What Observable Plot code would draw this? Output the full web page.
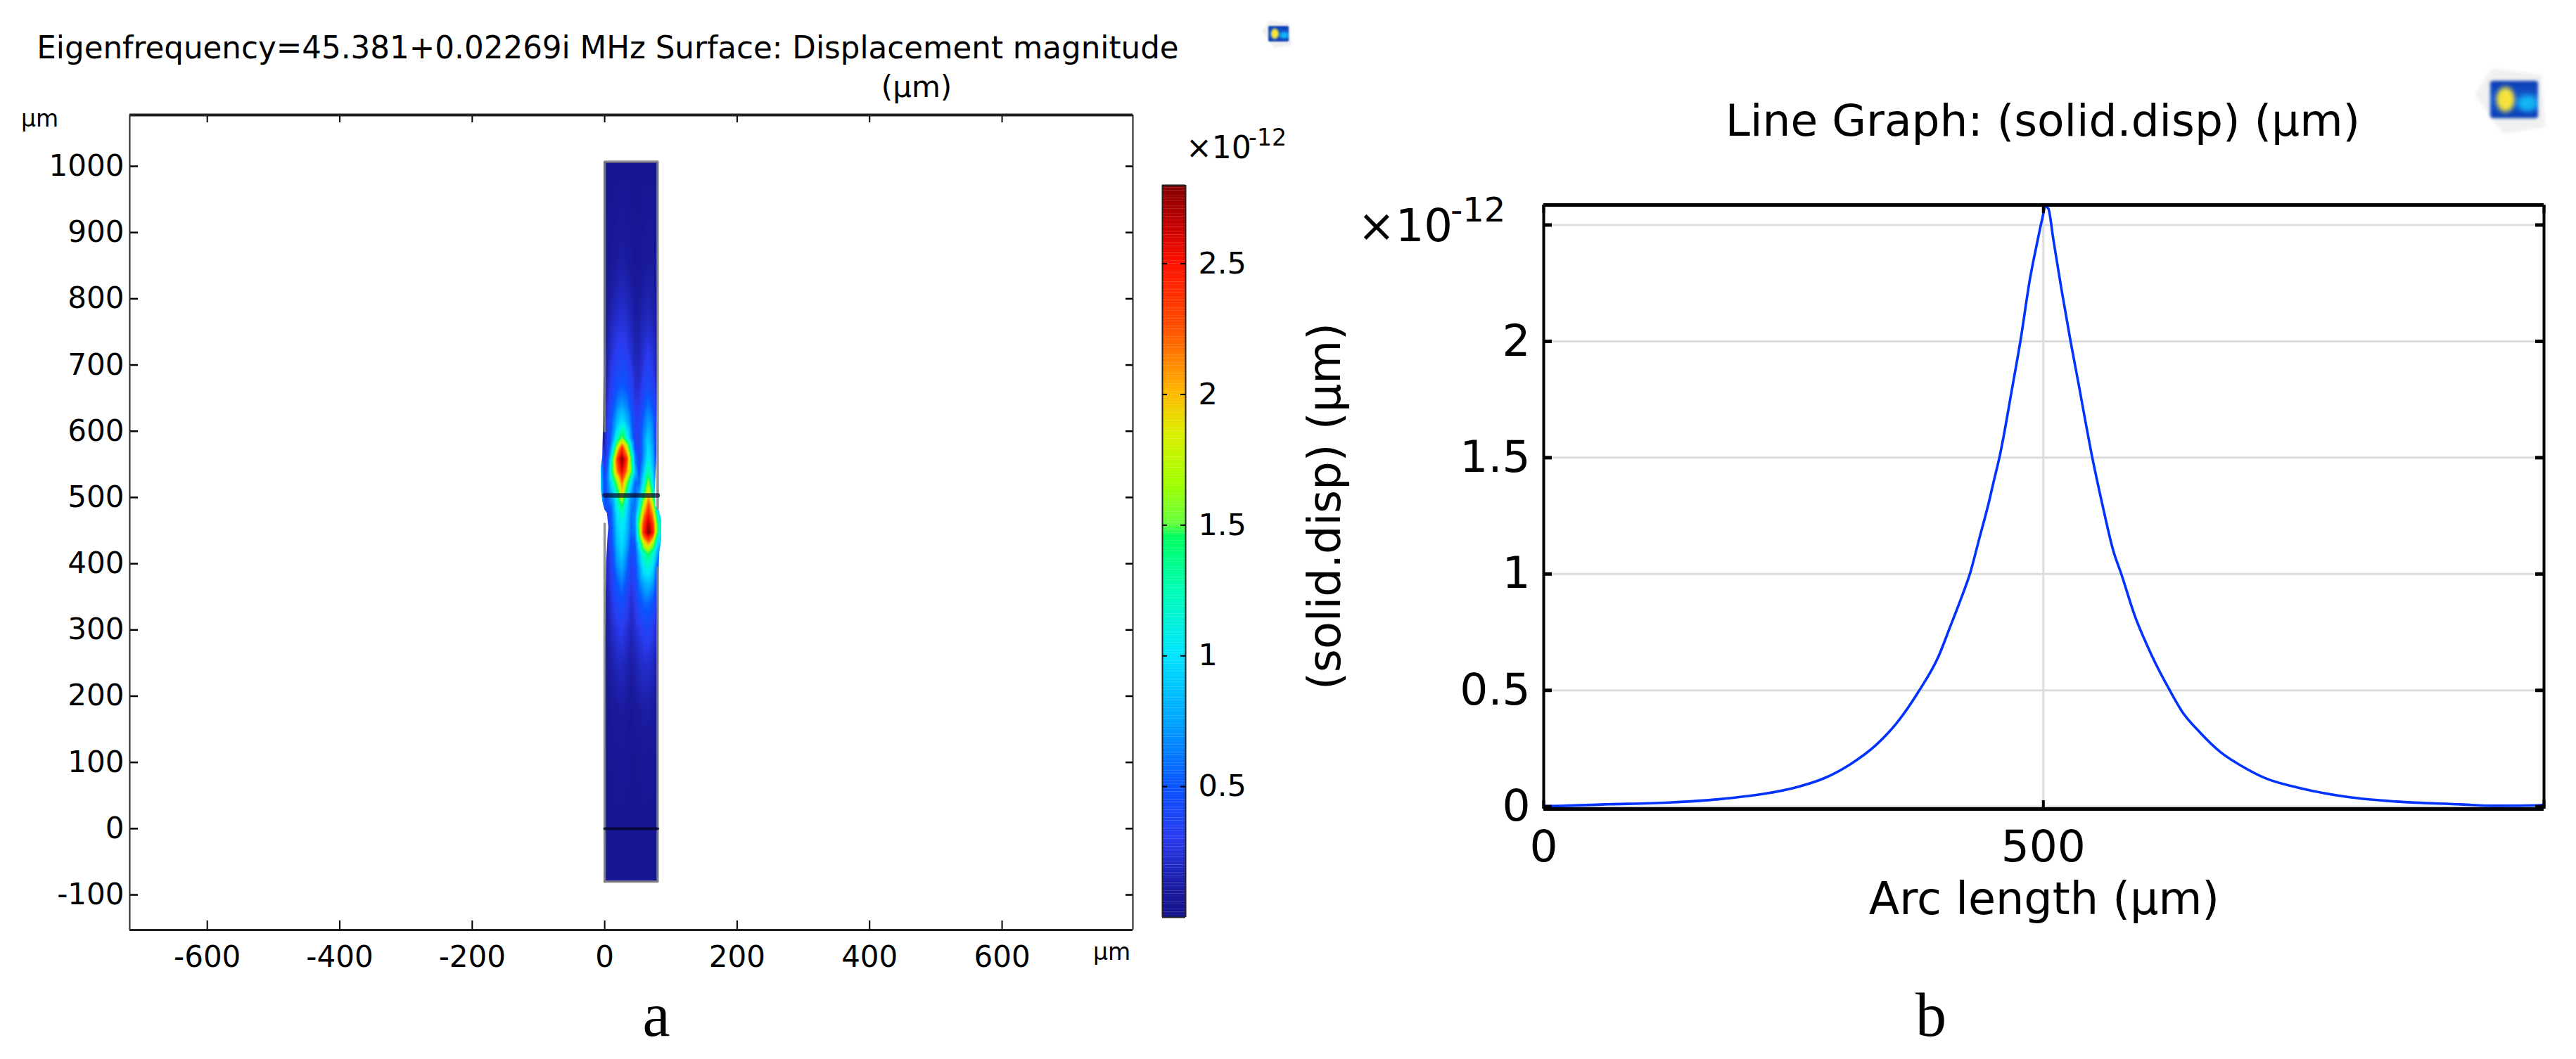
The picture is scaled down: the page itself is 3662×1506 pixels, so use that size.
<!DOCTYPE html>
<html>
<head>
<meta charset="utf-8">
<script src="https://cdn.jsdelivr.net/npm/d3@7"></script>
<script src="https://cdn.jsdelivr.net/npm/@observablehq/plot@0.6"></script>
<style>
html,body{margin:0;padding:0;background:#fff;width:3662px;height:1506px;overflow:hidden}
#page{position:relative;width:3662px;height:1506px}
#page>div,#page>svg,#page>figure{position:absolute;margin:0}
#page svg{overflow:visible}
</style>
</head>
<body>
<div id="page"></div>
<script>
// ---- Panel a: displacement field (x and y in µm, values ×10^-12)
const xCols = [-6,0,6,12,19,26,33,40,46,52,59,66,73,80,86];
const yRows = [1007,850,780,720,670,640,614,590,575,558,540,522,505,490,475,460,447,430,415,395,370,340,300,250,180,100,0,-80];
const fieldRows = [
 [.03,.03,.03,.04,.04,.04,.04,.03,.03,.03,.04,.04,.04,.03,.03],
 [.03,.04,.07,.09,.11,.13,.11,.09,.07,.07,.09,.11,.10,.05,.03],
 [.04,.06,.12,.16,.20,.22,.20,.15,.11,.11,.15,.17,.15,.07,.04],
 [.05,.08,.17,.25,.31,.33,.31,.23,.16,.16,.24,.29,.24,.09,.05],
 [.06,.10,.24,.35,.46,.50,.46,.35,.22,.22,.35,.41,.34,.12,.06],
 [.08,.12,.30,.46,.64,.72,.64,.46,.28,.28,.46,.58,.46,.13,.08],
 [.10,.14,.36,.58,.85,1.0,.85,.58,.34,.34,.58,.75,.60,.16,.10],
 [.15,.16,.38,.70,1.2,1.55,1.15,.70,.34,.34,.68,.90,.66,.16,.10],
 [.30,.18,.45,.95,1.8,2.4,1.85,1.05,.44,.34,.68,1.0,.72,.22,.10],
 [.70,.22,.62,1.45,2.35,2.8,2.4,1.45,.65,.34,.72,1.1,.78,.24,.10],
 [.90,.30,.75,1.5,2.15,2.6,2.15,1.55,.85,.44,.88,1.3,.88,.26,.10],
 [.95,.40,.72,1.1,1.6,2.15,1.6,1.0,.55,.55,1.1,1.65,1.0,.36,.10],
 [.95,.40,.62,.85,1.25,1.9,1.25,.75,.52,.75,1.35,2.0,1.3,.46,.20],
 [.70,.50,.52,.68,1.15,1.5,1.05,.65,.58,1.0,1.75,2.25,1.75,.70,.40],
 [.30,.40,.34,.62,1.0,1.2,.95,.60,.66,1.3,2.05,2.5,2.05,1.1,.85],
 [.10,.30,.34,.58,.95,1.08,.90,.56,.68,1.55,2.35,2.7,2.35,1.4,1.0],
 [.10,.20,.30,.56,.90,1.02,.86,.55,.62,1.5,2.45,2.8,2.45,1.4,1.0],
 [.10,.18,.28,.52,.86,.98,.78,.46,.52,1.05,1.75,2.05,1.65,.95,.85],
 [.10,.15,.24,.46,.78,.92,.68,.40,.46,.85,1.25,1.45,1.2,.72,.65],
 [.10,.12,.24,.40,.68,.78,.58,.34,.42,.72,1.05,1.15,.95,.50,.34],
 [.08,.10,.22,.34,.52,.62,.46,.28,.36,.60,.78,.84,.72,.36,.16],
 [.07,.08,.18,.28,.40,.44,.34,.22,.30,.44,.55,.56,.48,.24,.08],
 [.06,.07,.14,.21,.27,.30,.24,.17,.22,.28,.35,.36,.30,.14,.06],
 [.05,.06,.11,.14,.18,.19,.16,.12,.14,.19,.22,.22,.19,.09,.05],
 [.04,.05,.07,.09,.10,.11,.09,.07,.09,.10,.12,.12,.10,.05,.04],
 [.03,.03,.05,.06,.07,.07,.06,.05,.05,.06,.07,.07,.06,.04,.03],
 [.03,.03,.04,.04,.05,.05,.05,.04,.04,.04,.05,.05,.04,.03,.03],
 [.02,.02,.03,.03,.03,.03,.03,.03,.03,.03,.03,.03,.03,.02,.02]
];
// deformed outline of the bar
const leftEdgeY  = [1010,700,614,561,543,515,494,481,476,455,437,402,295,-85];
const leftEdgeX  = [-.5,-1,-1.8,-3.2,-5.6,-5.6,-3.2,.3,3.9,6,4.6,2.8,1,.3];
const rightEdgeY = [1010,700,560,508,487,480,466,437,416,384,295,-85];
const rightEdgeX = [80.5,80,78.5,76,77,82.4,86,86,83,81.7,80.7,80.5];
const barOutline = [
  [[0,-80],[0,460]],
  [[0,600],[0,1007],[80,1007],[80,483]],
  [[80,394],[80,-80],[0,-80]]
];
const interfaceLines = [{y:503,w:6.5,o:.72},{y:0,w:4,o:.8}];
const aXDomain = [-717,797.5];
const aYDomain = [-153,1077.5];
const aXTicks = [-600,-400,-200,0,200,400,600];
const aYTicks = [-100,0,100,200,300,400,500,600,700,800,900,1000];

// ---- Colour bar
const colorDomain = [0,.1,.3,.5,.75,1,1.25,1.45,1.5,1.65,1.85,2,2.25,2.5,2.65,2.8];
const colorRange = ["#14148c","#1a1a9c","#2a3cf0","#0a55ff","#00a5ff","#00e5ff","#00ffb4","#00ff60","#66ff40","#a0ff00","#ddee00","#ffb800","#ff5000","#ff1000","#c00000","#800000"];
const colorTicks = [.5,1,1.5,2,2.5];
const colorSteps = d3.range(0,2.8,.01);

// ---- Panel b: line graph
const arcLength = [0,6.5,61,126,175,223,255,281,307,333,352,375,395,407,417,427,436,445,451,456,469,477,487,493.5,499,502,505,510,518,527,535,549,559,570,578,591,609,626.5,639,657,678,698,723,756,804,853,918,950,995,1001];
const solidDisp = [.003,.003,.01,.018,.032,.057,.086,.123,.183,.267,.353,.494,.645,.776,.887,1.008,1.154,1.30,1.41,1.5,1.804,2.0,2.278,2.418,2.529,2.58,2.57,2.438,2.227,2.006,1.823,1.5,1.30,1.10,1.0,.827,.645,.50,.408,.318,.232,.176,.121,.081,.042,.022,.01,.004,.006,.008];
const bXDomain = [0,1001];
const bYDomain = [-.01,2.586];
const bXTicks = [0,500];
const bYTicks = [0,.5,1,1.5,2];
const bYGrid = [0,.5,1,1.5,2,2.5];

const colorScale = {type:"linear",domain:colorDomain,range:colorRange,interpolate:"rgb",clamp:true};
const FONT = "'DejaVu Sans'";
const page = document.getElementById("page");
function put(node,left,top){ node.style.left=left+"px"; node.style.top=top+"px"; page.appendChild(node); }

// field samples
const samples = fieldRows.flatMap((row,j)=>row.map((v,i)=>({x:xCols[i],y:yRows[j],v})));
const leftEdge = leftEdgeY.map((y,i)=>({y,x:leftEdgeX[i]}));
const rightEdge = rightEdgeY.map((y,i)=>({y,x:rightEdgeX[i]}));
const outline = barOutline.flatMap((seg,k)=>seg.map(p=>({x:p[0],y:p[1],k})));

const aW = 1640, aH = 1506, aL = 184, aR = 30, aT = 163, aB = 184;
const plotA = Plot.plot({
  width:aW,height:aH,marginLeft:aL,marginRight:aR,marginTop:aT,marginBottom:aB,
  style:{fontFamily:FONT,fontSize:"42px",background:"transparent",color:"#000"},
  x:{domain:aXDomain,axis:null},
  y:{domain:aYDomain,axis:null},
  color:colorScale,
  marks:[
    Plot.raster(samples,{x:"x",y:"y",fill:"v",interpolate:"barycentric",pixelSize:1,x1:-6,x2:86,y1:-80,y2:1007}),
    Plot.areaX(leftEdge,{x1:()=>-40,x2:"x",y:"y",fill:"#fff"}),
    Plot.areaX(rightEdge,{x1:"x",x2:()=>125,y:"y",fill:"#fff"}),
    Plot.line(outline,{x:"x",y:"y",z:"k",stroke:"#808080",strokeWidth:3.5,strokeOpacity:.85}),
    ...interfaceLines.map(l=>Plot.line([{x:0,y:l.y},{x:80,y:l.y}],{x:"x",y:"y",stroke:"#05052a",strokeWidth:l.w,strokeOpacity:l.o})),
    Plot.ruleX(aXTicks,{insetBottom:aH-aT-aB-11,stroke:"#000",strokeWidth:2}),
    Plot.ruleX(aXTicks,{insetTop:aH-aT-aB-13,stroke:"#000",strokeWidth:2}),
    Plot.ruleY(aYTicks,{insetRight:aW-aL-aR-12,stroke:"#000",strokeWidth:2.5}),
    Plot.ruleY(aYTicks,{insetLeft:aW-aL-aR-10,stroke:"#000",strokeWidth:2.5}),
    Plot.ruleX([aXDomain[0],aXDomain[1]],{stroke:"#222",strokeWidth:2}),
    Plot.ruleY([aYDomain[1]],{stroke:"#222",strokeWidth:4}),
    Plot.ruleY([aYDomain[0]],{stroke:"#222",strokeWidth:3}),
    Plot.axisX({anchor:"bottom",ticks:aXTicks,tickFormat:String,tickSize:0,tickPadding:23,label:null,fontSize:42}),
    Plot.axisY({anchor:"left",ticks:aYTicks,tickFormat:String,tickSize:0,tickPadding:8,label:null,fontSize:42})
  ]
});
put(plotA,0,0);

// colour bar
const cbL=12,cbW=33,cbH=1506,cbT=263,cbB=1506-1304;
const plotC = Plot.plot({
  width:200,height:cbH,marginLeft:cbL,marginRight:200-cbL-cbW,marginTop:cbT,marginBottom:cbB,
  style:{fontFamily:FONT,fontSize:"43px",background:"transparent",color:"#000"},
  x:{domain:[0,1],axis:null},
  y:{domain:[0,2.8],axis:null},
  color:colorScale,
  marks:[
    Plot.rect(colorSteps,{x1:()=>0,x2:()=>1,y1:d=>d,y2:d=>d+.0105,fill:d=>d}),
    Plot.ruleX([0,1],{stroke:"#222",strokeWidth:2}),
    Plot.ruleY([0,2.8],{stroke:"#222",strokeWidth:2}),
    Plot.ruleY(colorTicks,{insetRight:cbW-7,stroke:"#000",strokeWidth:2}),
    Plot.ruleY(colorTicks,{insetLeft:cbW-7,stroke:"#000",strokeWidth:2}),
    Plot.axisY({anchor:"right",ticks:colorTicks,tickFormat:String,tickSize:0,tickPadding:18,label:null,fontSize:43})
  ]
});
put(plotC,1640,0);

// panel b
const curve = arcLength.map((x,i)=>({x,y:solidDisp[i]}));
const bW=1762,bH=1506,bL=294,bR=46,bT=291,bB=356;
const plotB = Plot.plot({
  width:bW,height:bH,marginLeft:bL,marginRight:bR,marginTop:bT,marginBottom:bB,
  style:{fontFamily:FONT,fontSize:"63px",background:"transparent",color:"#000"},
  x:{domain:bXDomain,axis:null},
  y:{domain:bYDomain,axis:null},
  marks:[
    Plot.ruleY(bYGrid,{stroke:"#dcdcdc",strokeWidth:3}),
    Plot.ruleX([500],{stroke:"#dcdcdc",strokeWidth:3}),
    Plot.line(curve,{x:"x",y:"y",stroke:"#0033ff",strokeWidth:3.6,curve:"monotone-x"}),
    Plot.ruleX(bXTicks.concat(bXDomain[1]),{insetBottom:bH-bT-bB-12,stroke:"#000",strokeWidth:4}),
    Plot.ruleX(bXTicks.concat(bXDomain[1]),{insetTop:bH-bT-bB-12,stroke:"#000",strokeWidth:4}),
    Plot.ruleY(bYGrid,{insetRight:bW-bL-bR-12,stroke:"#000",strokeWidth:5}),
    Plot.ruleY(bYGrid,{insetLeft:bW-bL-bR-12,stroke:"#000",strokeWidth:5}),
    Plot.ruleX([bXDomain[0],bXDomain[1]],{stroke:"#000",strokeWidth:4}),
    Plot.ruleY([bYDomain[0],bYDomain[1]],{stroke:"#000",strokeWidth:5}),
    Plot.axisX({anchor:"bottom",ticks:bXTicks,tickFormat:String,tickSize:0,tickPadding:30,label:null,fontSize:63}),
    Plot.axisY({anchor:"left",ticks:bYTicks,tickFormat:String,tickSize:0,tickPadding:19,label:null,fontSize:63})
  ]
});
put(plotB,1900,0);

// titles, unit marks and panel letters
const ns="http://www.w3.org/2000/svg";
const over=d3.select(document.createElementNS(ns,"svg")).attr("width",3662).attr("height",1506).style("pointer-events","none");
function label(t,x,y,fs,anchor="start",family=FONT,rot=0){
  return over.append("text").text(t).attr("x",x).attr("y",y).attr("font-size",fs).attr("font-family",family)
    .attr("text-anchor",anchor).attr("fill","#000").attr("transform",rot?`rotate(${rot} ${x} ${y})`:null);
}
label("Eigenfrequency=45.381+0.02269i MHz Surface: Displacement magnitude",864,83,43.6,"middle");
label("(µm)",1303,138,42,"middle");
label("µm",30,180,33);
label("µm",1554,1365,33);
label("×10",1686,225,44);
label("-12",1775,207,33);
label("a",933,1473,88,"middle","'Liberation Serif'");
label("b",2745,1473,88,"middle","'Liberation Serif'");
label("Line Graph: (solid.disp) (µm)",2904,193,63,"middle");
label("Arc length (µm)",2906,1300,63.6,"middle");
label("(solid.disp) (µm)",1905,720,63.7,"middle",FONT,-90);
label("×10",1930,343,64,);
label("-12",2062,315,48);
put(over.node(),0,0);

// COMSOL logo marks beside each title
function logo(left,top,s){
  const d=document.createElement("div");
  d.style.cssText=`width:${100*s}px;height:${93*s}px;filter:blur(${Math.max(1,2*s)}px);`;
  d.innerHTML=`<div style="position:absolute;left:0;top:0;width:100%;height:100%;background:#f0f0f0;clip-path:polygon(25% 0,95% 10%,100% 90%,40% 100%,0 40%)"></div>
  <div style="position:absolute;left:${22*s}px;top:${18*s}px;width:${68*s}px;height:${53*s}px;border-radius:${4*s}px;background:radial-gradient(ellipse 24% 42% at 32% 50%,#f6e23c 0 55%,rgba(246,226,60,0) 100%),radial-gradient(ellipse 30% 30% at 78% 60%,#12b4f4 0 40%,rgba(18,180,244,0) 100%),linear-gradient(#0a3cb4,#1a5cd0 50%,#0a3cb4)"></div>`;
  put(d,left,top);
}
logo(3518,97,1);
logo(1794,29,.42);
</script>
</body>
</html>
